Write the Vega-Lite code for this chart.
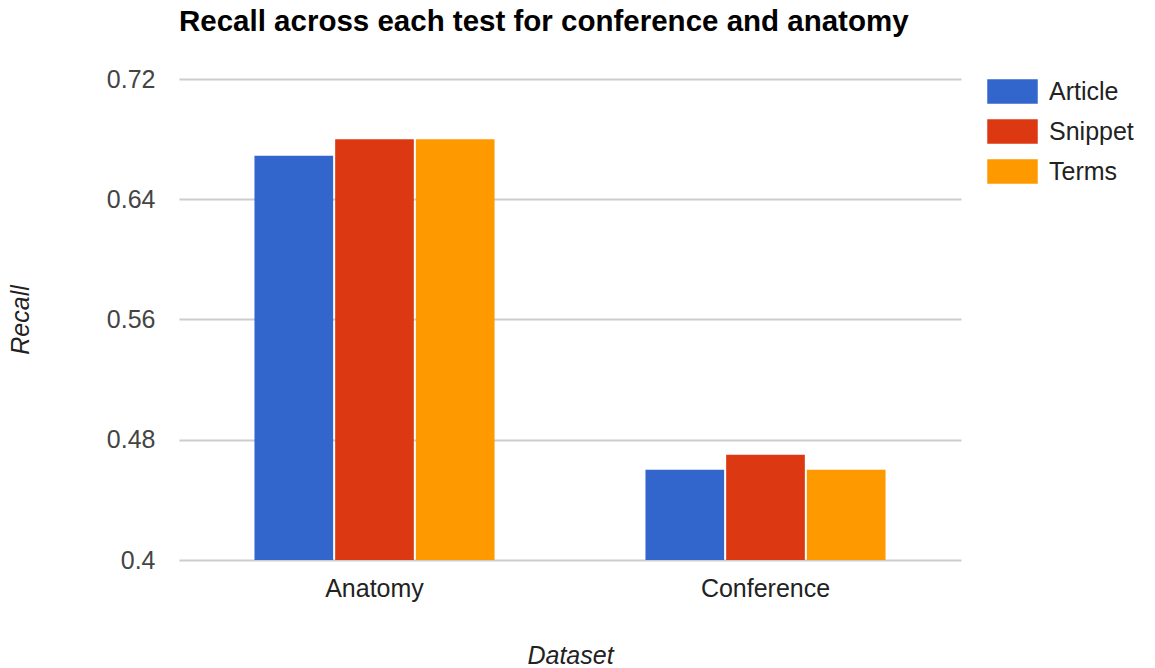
{
  "$schema": "https://vega.github.io/schema/vega-lite/v6.json",
  "width": 782,
  "height": 481,
  "autosize": {"type": "none"},
  "padding": {"left": 179, "top": 79, "right": 194, "bottom": 108},
  "background": "white",
  "title": {
    "text": "Recall across each test for conference and anatomy",
    "anchor": "start",
    "frame": "group",
    "font": "Liberation Sans",
    "fontSize": 29.5,
    "fontWeight": "bold",
    "color": "#000000",
    "offset": 30
  },
  "data": {
    "values": [
      {"dataset": "Anatomy", "test": "Article", "recall": 0.669},
      {"dataset": "Anatomy", "test": "Snippet", "recall": 0.68},
      {"dataset": "Anatomy", "test": "Terms", "recall": 0.68},
      {"dataset": "Conference", "test": "Article", "recall": 0.46},
      {"dataset": "Conference", "test": "Snippet", "recall": 0.47},
      {"dataset": "Conference", "test": "Terms", "recall": 0.46}
    ]
  },
  "mark": {"type": "bar", "clip": true},
  "encoding": {
    "x": {
      "field": "dataset",
      "type": "nominal",
      "title": "Dataset",
      "scale": {"paddingInner": 0.386, "paddingOuter": 0.193},
      "axis": {
        "labelAngle": 0,
        "labelFont": "Liberation Sans",
        "labelFontSize": 25,
        "labelColor": "#222222",
        "labelPadding": 16,
        "ticks": false,
        "domain": false,
        "titleFont": "Liberation Sans",
        "titleFontSize": 25,
        "titleFontStyle": "italic",
        "titleFontWeight": "normal",
        "titleColor": "#222222",
        "titlePadding": 42
      }
    },
    "xOffset": {
      "field": "test",
      "type": "nominal",
      "scale": {"paddingInner": 0.025, "paddingOuter": 0}
    },
    "y": {
      "field": "recall",
      "type": "quantitative",
      "title": "Recall",
      "scale": {"domain": [0.4, 0.72], "zero": false, "nice": false},
      "axis": {
        "values": [0.4, 0.48, 0.56, 0.64, 0.72],
        "format": ".2~f",
        "labelFont": "Liberation Sans",
        "labelFontSize": 25,
        "labelColor": "#444444",
        "labelPadding": 24,
        "ticks": false,
        "domain": false,
        "gridColor": "#cccccc",
        "gridWidth": 2,
        "titleFont": "Liberation Sans",
        "titleFontSize": 25,
        "titleFontStyle": "italic",
        "titleFontWeight": "normal",
        "titleColor": "#222222",
        "titlePadding": 73
      }
    },
    "color": {
      "field": "test",
      "type": "nominal",
      "scale": {"domain": ["Article", "Snippet", "Terms"], "range": ["#3366cc", "#dc3912", "#ff9900"]},
      "legend": {
        "title": null,
        "orient": "right",
        "offset": 26,
        "symbolType": "M-1,-0.49H1V0.49H-1Z",
        "symbolSize": 2550,
        "symbolStrokeWidth": 0,
        "symbolOpacity": 1,
        "labelFont": "Liberation Sans",
        "labelFontSize": 25,
        "labelColor": "#222222",
        "labelOffset": 11,
        "clipHeight": 25,
        "rowPadding": 14
      }
    }
  },
  "config": {
    "view": {"stroke": null},
    "axis": {"gridColor": "#cccccc"}
  }
}
